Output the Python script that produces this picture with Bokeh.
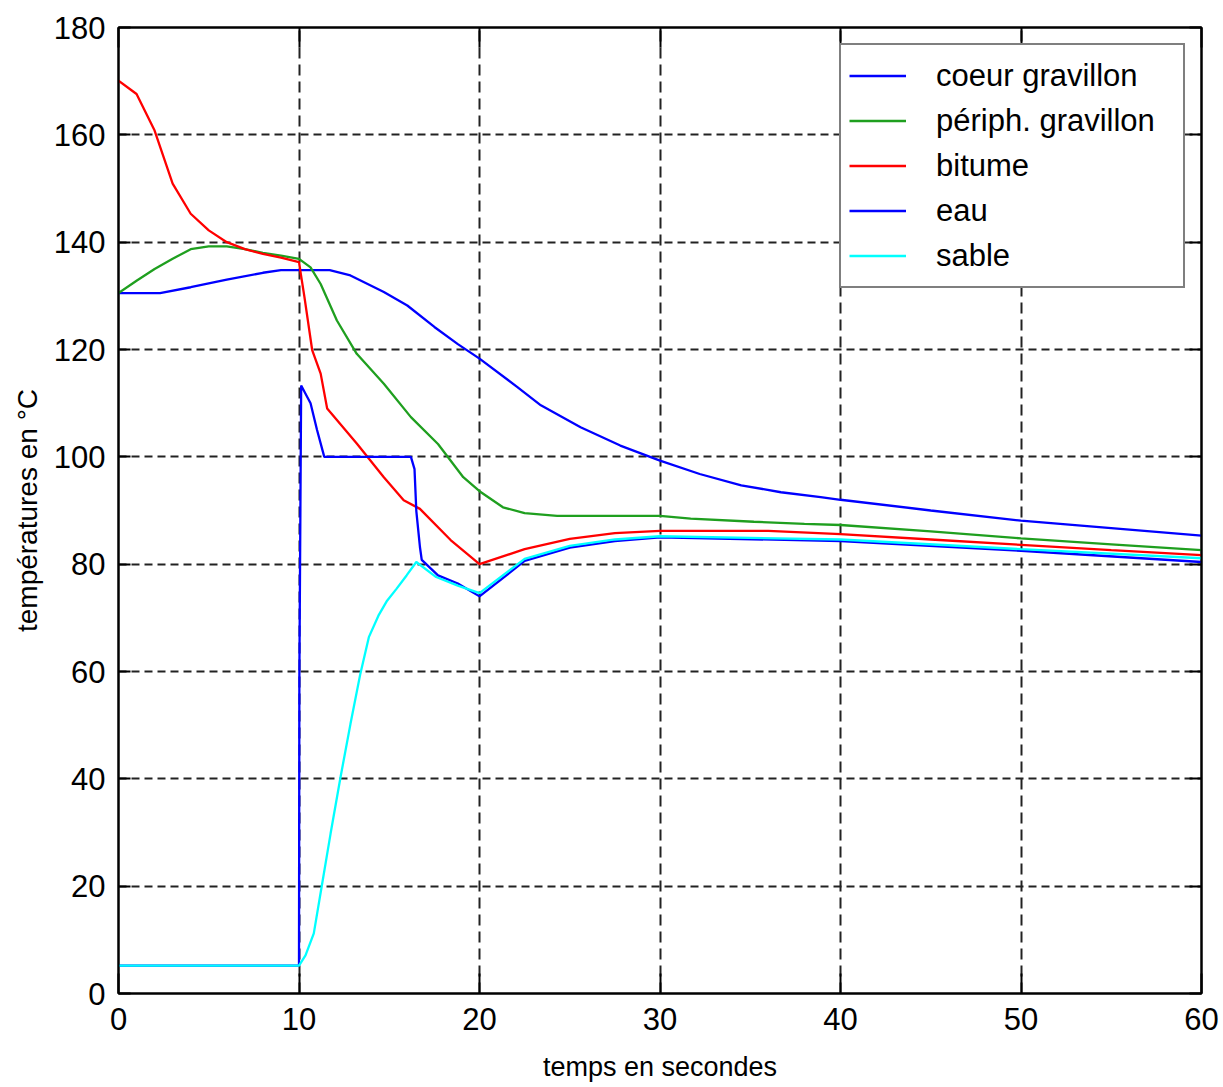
from bokeh.plotting import figure
from bokeh.models import LinearAxis, FixedTicker, Legend, LegendItem, Range1d
from bokeh.embed import file_html
from bokeh.resources import INLINE

FONT = "Liberation Sans"

x_ticks = [0, 10, 20, 30, 40, 50, 60]
y_ticks = [0, 20, 40, 60, 80, 100, 120, 140, 160, 180]

coeur_t = [0, 2.3, 4, 6, 8, 9, 10, 11.7, 12.85, 14.7, 16, 17.5, 18.8, 20, 22.1, 23.4,
           25.6, 27.8, 30, 32.2, 34.5, 36.7, 38.9, 40, 45, 50, 55, 60]
coeur_v = [130.5, 130.5, 131.6, 133, 134.3, 134.8, 134.8, 134.8, 133.8, 130.7, 128.2, 124.2,
           121.0, 118.3, 113, 109.6, 105.5, 102.1, 99.3, 96.8, 94.7, 93.4, 92.5, 92.0, 90.0,
           88.1, 86.7, 85.3]

periph_t = [0, 1, 2, 3, 4, 5, 6, 7, 8, 9, 10, 10.64, 11.2, 12.1, 13.2, 14.7, 16.2, 17.7,
            19.1, 20, 21.3, 22.5, 24.3, 30, 31.7, 35.2, 38, 40, 45, 50, 55, 60]
periph_v = [130.5, 132.8, 135, 136.9, 138.7, 139.2, 139.2, 138.7, 138, 137.5, 136.9, 135.3,
            132.2, 125.4, 119.2, 113.6, 107.4, 102.4, 96.2, 93.6, 90.6, 89.5, 89, 89, 88.5,
            87.9, 87.5, 87.3, 86.1, 84.8, 83.7, 82.6]

bitume_t = [0, 1, 2, 3, 4, 5, 6, 7, 8, 9, 10, 10.1, 10.3, 10.73, 11.2, 11.56, 13.2, 14.7,
            15.8, 16.7, 18.4, 20, 22.5, 25, 27.5, 30, 36, 40, 45, 50, 55, 60]
bitume_v = [170.1, 167.6, 160.8, 150.9, 145.3, 142.2, 140, 138.7, 137.8, 137.1, 136.3, 134.1,
            129.8, 119.9, 115.5, 109, 102.5, 96.2, 91.9, 90.3, 84.5, 80, 82.8, 84.7, 85.8,
            86.2, 86.2, 85.6, 84.6, 83.6, 82.6, 81.7]

eau_t = [0, 10, 10.02, 10.12, 10.64, 11.0, 11.4, 16.2, 16.4, 16.5, 16.7, 16.8, 17.7, 18.8,
         20, 22.5, 25, 27.5, 30, 40, 50, 60]
eau_v = [5.2, 5.2, 59, 113.3, 110, 105, 100, 100, 97.7, 89.9, 83.2, 80.8, 77.9, 76.4, 74.0,
         80.6, 83.1, 84.3, 85, 84.3, 82.5, 80.4]

sable_t = [0, 10, 10.36, 10.82, 11.28, 11.75, 12.3, 12.85, 13.4, 13.87, 14.4, 14.88, 15.4,
           15.96, 16.5, 17.6, 18.8, 20, 22.5, 25, 27.5, 30, 40, 50, 60]
sable_v = [5.2, 5.2, 7.1, 11.2, 20.4, 29.8, 40.3, 50.2, 59.6, 66.4, 70.4, 73.2, 75.4, 77.9,
           80.4, 77.6, 76.0, 74.6, 81.0, 83.4, 84.6, 85.2, 84.6, 82.8, 81.1]

names = ["coeur gravillon", "périph. gravillon", "bitume", "eau", "sable"]
colors = ["#0000ff", "#1f9f1f", "#ff0000", "#0000ff", "#00ffff"]
series = [(coeur_t, coeur_v), (periph_t, periph_v), (bitume_t, bitume_v),
          (eau_t, eau_v), (sable_t, sable_v)]

p = figure(width=1223, height=1087, output_backend="svg", toolbar_location=None,
           x_range=Range1d(0, 60), y_range=Range1d(0, 180),
           min_border_left=118, min_border_right=22, min_border_top=27,
           min_border_bottom=94)
p.background_fill_color = "white"
p.border_fill_color = "white"
p.outline_line_color = "black"
p.outline_line_width = 2

for ax, ticks in ((p.xaxis[0], x_ticks), (p.yaxis[0], y_ticks)):
    ax.ticker = FixedTicker(ticks=ticks)
    ax.minor_tick_line_color = None
    ax.major_tick_out = 0
    ax.axis_line_color = "black"
    ax.axis_line_width = 2
    ax.major_tick_line_color = "black"
    ax.major_tick_line_width = 2
    ax.major_label_text_font = FONT
    ax.major_label_text_font_size = "31px"
    ax.major_label_text_color = "black"
    ax.axis_label_text_font = FONT
    ax.axis_label_text_font_style = "normal"
    ax.axis_label_text_color = "black"

p.xaxis.major_tick_in = 20
p.yaxis.major_tick_in = 12
p.xaxis.major_label_standoff = 14
p.yaxis.major_label_standoff = 13
p.xaxis.axis_label = "temps en secondes"
p.yaxis.axis_label = "températures en °C"
p.xaxis.axis_label_text_font_size = "27px"
p.yaxis.axis_label_text_font_size = "28px"
p.xaxis.axis_label_standoff = 19
p.yaxis.axis_label_standoff = 8

top_ax = LinearAxis(ticker=FixedTicker(ticks=x_ticks), major_tick_in=20, major_tick_out=0,
                    minor_tick_line_color=None, major_label_text_color=None,
                    axis_line_color="black", axis_line_width=2, major_label_standoff=0,
                    major_tick_line_width=2)
right_ax = LinearAxis(ticker=FixedTicker(ticks=y_ticks), major_tick_in=12, major_tick_out=0,
                      minor_tick_line_color=None, major_label_text_color=None,
                      axis_line_color="black", axis_line_width=2, major_label_standoff=0,
                      major_tick_line_width=2)
p.add_layout(top_ax, "above")
p.add_layout(right_ax, "right")

p.xgrid.ticker = FixedTicker(ticks=x_ticks)
p.ygrid.ticker = FixedTicker(ticks=y_ticks)
p.xgrid.grid_line_color = "#222222"
p.ygrid.grid_line_color = "#222222"
p.xgrid.grid_line_width = 2
p.ygrid.grid_line_width = 2
p.xgrid.grid_line_dash = "11 6"
p.ygrid.grid_line_dash = "8 5"

items = []
for name, color, (t, v) in zip(names, colors, series):
    r = p.line(t, v, line_color=color, line_width=2.3)
    items.append(LegendItem(label=name, renderers=[r]))

legend = Legend(items=items, location="top_right")
legend.margin = 16
legend.padding = 8
legend.spacing = 0
legend.glyph_width = 57
legend.glyph_height = 45
legend.label_height = 45
legend.label_width = 239
legend.label_standoff = 30
legend.label_text_font = FONT
legend.label_text_font_size = "31px"
legend.label_text_color = "black"
legend.border_line_color = "black"
legend.border_line_width = 2
legend.background_fill_alpha = 1.0
p.add_layout(legend, "center")

open("out.html", "w").write(file_html(p, INLINE))
